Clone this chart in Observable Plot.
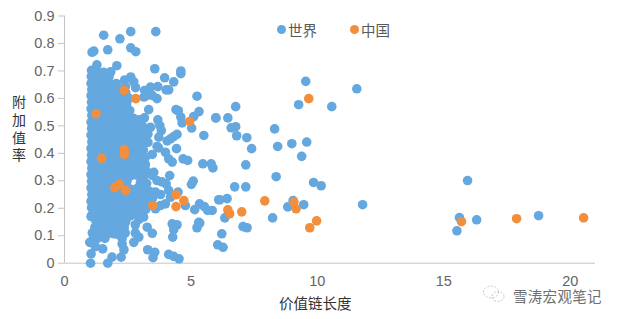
<!DOCTYPE html>
<html><head><meta charset="utf-8">
<script src="https://cdn.jsdelivr.net/npm/d3@7"></script>
<script src="https://cdn.jsdelivr.net/npm/@observablehq/plot@0.6"></script>
<style>
html,body{margin:0;padding:0;background:#fff}
#wrap{position:relative;width:622px;height:319px;overflow:hidden;font-family:"Noto Sans CJK SC","Liberation Sans",sans-serif}
svg{display:block}
.lg{position:absolute;top:20px;font-size:14.5px;line-height:20px;color:#595959}
.sw{position:absolute;top:24.5px;width:9.4px;height:9.4px;border-radius:50%}
.yl{position:absolute;left:11px;top:95px;writing-mode:vertical-rl;text-orientation:upright;font-size:14px;line-height:16px;letter-spacing:3.7px;color:#333}
.wm{position:absolute;left:513px;top:288px;font-size:14.5px;line-height:15px;color:#6e6e6e;letter-spacing:.3px;white-space:nowrap}
.ic{position:absolute;left:482px;top:284px}
</style></head><body><div id="wrap"></div>
<script>
const xTicks=[0,5,10,15,20];
const yTicks=[0,0.1,0.2,0.3,0.4,0.5,0.6,0.7,0.8,0.9];
const yTickLabels=["0","0.1","0.2","0.3","0.4","0.5","0.6","0.7","0.8","0.9"];
const xTitle="价值链长度";
const yTitle="附加值率";
const seriesNames=["世界","中国"];
const world=[
[1.55,.83],[2.19,.817],[2.62,.843],[3.61,.843],[1.09,.768],[1.16,.772],[1.71,.777],[2.62,.784],[2.82,.77],[1.28,.722],[2.07,.719],[3.57,.708],[4.6,.70],[4.6,.69],[1.83,.697],[2.62,.678],[2.38,.667],[2.74,.66],[3.96,.675],[4.32,.66],
[3.17,.629],[3.4,.641],[3.69,.643],[4.02,.631],[4.12,.631],[2.81,.639],[2.41,.643],[3.27,.611],[3.66,.599],[3.47,.611],[3.14,.605],[5.24,.608],[3.33,.559],[4.41,.559],[4.5,.555],[4.6,.532],[5.32,.552],[5.11,.534],[4.65,.511],[5.03,.492],[5.99,.529],[5.51,.465],
[3.69,.522],[3.77,.501],[3.83,.483],[3.73,.459],[3.16,.529],[4.45,.469],[4.32,.461],[4.19,.453],[4.06,.445],[4.43,.417],[3.4,.495],[3.3,.47],[3.3,.44],
[3.66,.425],[3.72,.42],[3.47,.396],[3.99,.404],[4.12,.38],[4.26,.368],[4.69,.38],[4.87,.374],[5.47,.362],[5.8,.362],[5.87,.347],[4.16,.319],[5.09,.299],[5.02,.287],[3.2,.36],[3.53,.331],[3.47,.32],[3.66,.301],[4.02,.289],[3.85,.296],[4.12,.265],[4.49,.259],[3.6,.259],[3.8,.25],[4.19,.24],[3.99,.216],[3.79,.21],[3.6,.198],[4.78,.21],[5.15,.195],[5.34,.216],[5.53,.206],[5.66,.192],[5.84,.192],[6.1,.231],
[5.31,.149],[5.24,.129],[6.06,.067],[4.26,.143],[4.45,.14],[4.32,.122],[4.28,.095],[3.13,.168],[2.95,.16],[2.8,.14],[3.27,.131],[3.47,.109],[2.8,.11],[2.94,.095],[2.74,.076],[3.29,.049],[3.57,.04],[3.5,.02],[4.12,.032],[4.32,.025],[4.53,.016],
[1.03,0],[1.71,0],[1.88,.022],[2.24,.022],[2.35,.049],[2.28,.07],[2.28,.09],[2.4,.11],[2.36,.13],[1.51,.052],[1.05,.034],[1.16,.076],[1.0,.076],[1.3,.09],[1.1,.11],[1.95,.107],[1.55,.12],[1.3,.12],[1.05,.17],
[7.4,.417],[8.43,.425],[8.99,.435],[9.58,.441],[9.38,.389],[7.17,.358],[8.37,.315],[6.73,.278],[7.17,.278],[9.85,.294],[10.15,.282],[6.14,.231],[6.43,.235],[9.04,.228],[8.83,.205],[9.46,.213],[11.79,.213],[6.34,.165],[8.23,.165],[7.06,.133],[7.22,.129],[5.35,.146],[6.22,.107],[6.27,.058],
[9.54,.662],[9.26,.577],[10.57,.57],[11.56,.635],[6.77,.57],[5.98,.529],[6.46,.529],[6.59,.493],[6.77,.497],[6.81,.464],[7.21,.457],[8.31,.489],[15.62,.166],[16.3,.158],[15.52,.118],[18.75,.173],[15.94,.301],
[1.07,.702],[1.3,.698],[1.55,.695],[1.06,.68],[1.22,.676],[1.5,.672],[1.76,.678],[1.05,.655],[1.3,.652],[1.58,.656],[1.85,.65],[2.05,.654],
[1.08,.632],[1.36,.63],[1.64,.634],[1.9,.628],[2.15,.632],[2.42,.622],[1.05,.61],[1.24,.606],[1.5,.608],[1.78,.61],[2.04,.606],[2.3,.608],[2.55,.6],
[1.07,.586],[1.36,.584],[1.63,.586],[1.9,.582],[2.18,.584],[2.46,.58],[1.05,.562],[1.23,.56],[1.5,.562],[1.76,.558],[2.04,.56],[2.32,.562],[2.58,.556],
[1.08,.538],[1.38,.536],[1.65,.538],[1.92,.536],[2.2,.534],[2.46,.538],[2.72,.528],[2.95,.522],[1.05,.514],[1.26,.512],[1.52,.514],[1.78,.51],[2.06,.512],[2.34,.514],[2.6,.51],[2.86,.504],[3.08,.5],
[1.07,.49],[1.38,.488],[1.65,.49],[1.92,.486],[2.2,.488],[2.47,.49],[2.74,.484],[3.0,.478],[3.18,.48],[1.05,.466],[1.26,.464],[1.52,.466],[1.78,.462],[2.06,.464],[2.34,.466],[2.6,.46],[2.87,.462],[3.12,.456],
[1.08,.442],[1.38,.44],[1.65,.442],[1.92,.438],[2.2,.44],[2.47,.442],[2.74,.436],[3.0,.438],[1.05,.418],[1.26,.416],[1.52,.418],[1.78,.414],[2.06,.416],[2.34,.418],[2.6,.414],[2.87,.416],[3.12,.412],
[1.07,.394],[1.38,.392],[1.65,.394],[1.92,.39],[2.2,.392],[2.47,.394],[2.74,.388],[3.0,.39],[3.2,.386],[1.05,.37],[1.26,.368],[1.52,.37],[1.78,.366],[2.06,.368],[2.34,.37],[2.6,.364],[2.87,.366],[3.12,.362],
[1.08,.346],[1.38,.344],[1.65,.346],[1.92,.342],[2.2,.344],[2.47,.346],[2.74,.34],[3.0,.342],[3.22,.338],[1.05,.322],[1.26,.32],[1.52,.322],[1.78,.318],[2.06,.32],[2.34,.322],[2.6,.318],[2.87,.32],[3.12,.314],
[1.07,.298],[1.38,.296],[1.65,.298],[1.92,.294],[2.2,.296],[2.47,.298],[3.0,.292],[3.25,.29],[1.05,.274],[1.26,.272],[1.52,.274],[1.78,.27],[2.06,.272],[2.34,.274],[2.6,.27],[2.87,.272],[3.12,.268],[3.36,.262],
[1.08,.25],[1.38,.248],[1.65,.25],[1.92,.246],[2.2,.248],[2.47,.25],[2.74,.244],[3.0,.246],[3.25,.242],[3.48,.236],[1.05,.226],[1.26,.224],[1.52,.226],[1.78,.222],[2.06,.224],[2.34,.226],[2.6,.222],[2.87,.224],[3.12,.22],[3.34,.218],
[1.07,.202],[1.38,.2],[1.65,.202],[1.92,.198],[2.2,.2],[2.47,.202],[2.74,.198],[3.0,.2],[3.22,.196],[1.1,.178],[1.3,.176],[1.52,.178],[1.78,.174],[2.06,.176],[2.34,.178],[2.6,.172],[2.85,.178],
[1.24,.154],[1.42,.152],[1.68,.154],[1.94,.15],[2.2,.152],[2.42,.15],[1.2,.13],[1.46,.128],[1.72,.13],[1.98,.126],[2.16,.128],[1.42,.106],[1.7,.108],[1.15,.095],[1.22,.06],[1.6,.09],[2.1,.105]
];
const china=[
[2.36,.629],[2.82,.599],[1.25,.544],[4.95,.516],[2.36,.414],[2.37,.396],[1.47,.382],[1.99,.275],[2.17,.287],[2.42,.265],[3.49,.21],[4.41,.249],[4.72,.228],[4.41,.206],
[6.46,.194],[6.53,.18],[7.01,.187],[7.92,.227],[9.07,.222],[9.16,.198],[9.97,.154],[9.7,.129],[9.66,.599],[15.7,.151],[17.88,.162],[20.53,.165]
];
const blue="#64a8df", orange="#f28f3e", axisGray="#c4c4c4", tickText="#646464";
const chart=Plot.plot({
  width:622,height:319,
  marginLeft:64,marginRight:27,marginTop:15.5,marginBottom:56.3,
  style:{background:"transparent",fontFamily:"'Liberation Sans',sans-serif"},
  x:{type:"linear",domain:[0,21],axis:null},
  y:{type:"linear",domain:[0,.9],axis:null},
  marks:[
    Plot.ruleX([0],{stroke:axisGray}),
    Plot.ruleY([0],{stroke:axisGray}),
    Plot.axisY(yTicks,{anchor:"left",tickSize:6,stroke:axisGray,tickPadding:4,label:null,
      tickFormat:(d)=>yTickLabels[yTicks.indexOf(d)],fontSize:14.5,fill:tickText}),
    Plot.axisX(xTicks,{anchor:"bottom",tickSize:0,tickPadding:13,label:null,fontSize:14.5,fill:tickText}),
    Plot.dot(world,{x:d=>d[0],y:d=>d[1],r:4.8,fill:blue}),
    Plot.dot(china,{x:d=>d[0],y:d=>d[1],r:4.8,fill:orange})
  ]
});
const wrap=document.getElementById("wrap");
wrap.appendChild(chart);
function add(cls,style,html){const e=document.createElement("div");e.className=cls;e.style.cssText=style;e.innerHTML=html;wrap.appendChild(e);return e;}
add("sw",`left:276.6px;background:${blue}`,"");
add("lg","left:288px",seriesNames[0]);
add("sw",`left:349.6px;background:${orange}`,"");
add("lg","left:361px",seriesNames[1]);
add("yl","",yTitle);
add("lg","left:279px;top:293px;color:#333;font-size:14.5px",xTitle);
add("ic","",'<svg width="26" height="20" style="overflow:visible"><g fill="none" stroke="#c8c8c8" stroke-width="1" stroke-dasharray="2 1.5"><ellipse cx="9" cy="8" rx="7.5" ry="6"/><ellipse cx="16" cy="12.5" rx="6" ry="5"/></g></svg>');
add("wm","","雪涛宏观笔记");
</script></body></html>
